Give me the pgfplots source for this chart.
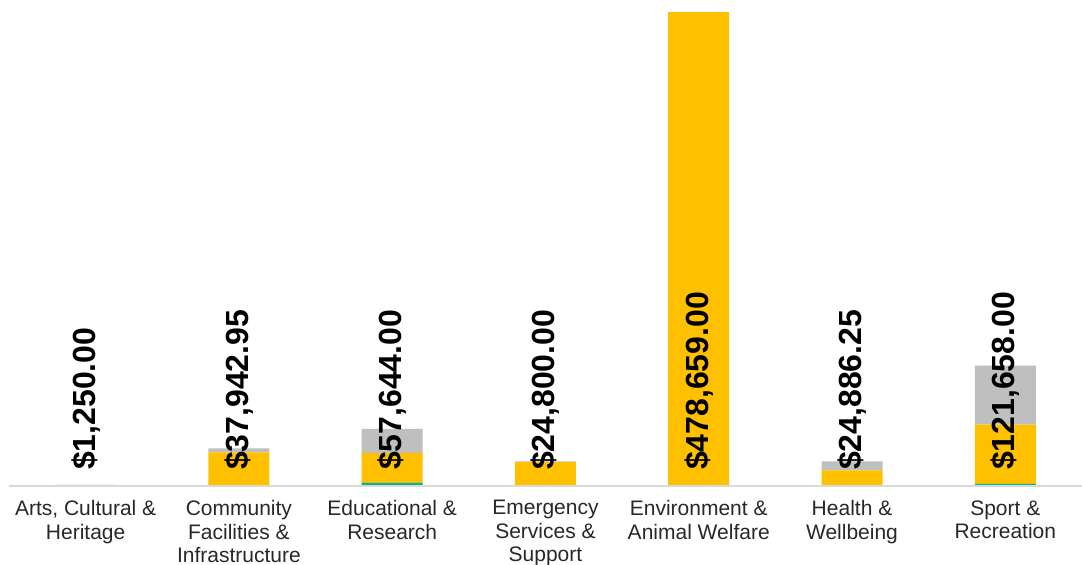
\documentclass[border=0pt]{standalone}
\usepackage{fontspec}
\setmainfont{Liberation Sans}
\usepackage{pgfplots}
\pgfplotsset{compat=1.18}
\definecolor{cteal}{RGB}{0,176,160}
\definecolor{cyellow}{RGB}{255,192,0}
\definecolor{cgray}{RGB}{191,191,191}
\definecolor{caxis}{RGB}{217,217,217}
\definecolor{ctext}{RGB}{40,40,40}
\pgfplotsset{common/.style={
  at={(9pt,0pt)}, anchor=south west,
  scale only axis, width=1073pt, height=485pt,
  xmin=-0.5, xmax=6.5, ymin=0, ymax=490000,
  clip=false,
}}
\begin{document}
\begin{tikzpicture}
\useasboundingbox (0pt,-79pt) rectangle (1082pt,486pt);
\begin{axis}[
  common,
  ybar stacked, bar width=61pt,
  xtick={0,...,6},
  xticklabels={{Arts, Cultural \&\\Heritage},{Community\\Facilities \&\\Infrastructure},{Educational \&\\Research},{Emergency\\Services \&\\Support},{Environment \&\\Animal Welfare},{Health \&\\Wellbeing},{Sport \&\\Recreation}},
  xticklabel style={align=center, font=\fontsize{21}{23.5}\selectfont, text=ctext, yshift=-11pt},
  major tick length=0pt,
  ytick=\empty,
  axis y line=none,
  axis x line*=bottom,
  axis on top,
  x axis line style={caxis, line width=1.2pt, -},
]
\addplot[fill=cteal, draw=none] coordinates {(0,1250) (1,0) (2,3200) (3,0) (4,0) (5,0) (6,2200)};
\addplot[fill=cyellow, draw=none] coordinates {(0,0) (1,33943) (2,30194) (3,24000) (4,478659) (5,15786) (6,59858)};
\addplot[fill=cgray, draw=none] coordinates {(0,0) (1,4000) (2,24250) (3,800) (4,0) (5,9100) (6,59600)};
\end{axis}
\begin{axis}[
  common,
  hide axis,
]
\addplot[draw=none, mark=none, nodes near coords, point meta=explicit symbolic,
  nodes near coords style={rotate=90, anchor=west, inner sep=0pt, font=\fontsize{32}{38}\selectfont\bfseries, text=black}]
  coordinates {(0,16000)[\$1,250.00] (1,16000)[\$37,942.95] (2,16000)[\$57,644.00] (3,16000)[\$24,800.00] (4,16000)[\$478,659.00] (5,16000)[\$24,886.25] (6,16000)[\$121,658.00]};
\end{axis}
\end{tikzpicture}
\end{document}
